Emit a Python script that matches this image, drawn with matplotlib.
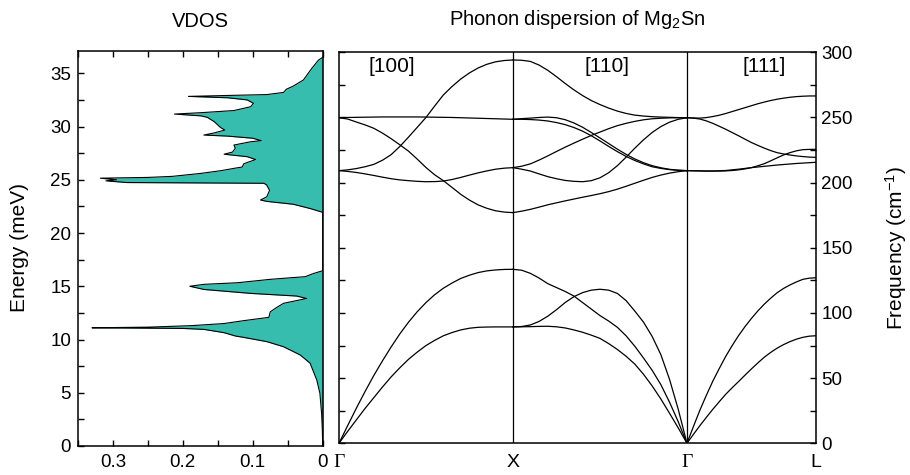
import matplotlib
matplotlib.use("Agg")
import matplotlib.pyplot as plt
from matplotlib.ticker import MultipleLocator

plt.rcParams['font.family'] = ['Liberation Sans', 'DejaVu Sans']
plt.rcParams['mathtext.fontset'] = 'custom'
plt.rcParams['mathtext.rm'] = 'Liberation Sans'
plt.rcParams['mathtext.default'] = 'regular'

# vibrational density of states (energy in meV, states per meV)
vdos_energy = [0, 1.5, 3.0, 4.95, 6.2, 7.77, 8.54, 9.32, 9.8, 10.2, 10.33, 10.64,
               10.95, 11.04, 11.1, 11.16, 11.3, 11.5, 11.77, 12.08, 12.6, 13.0,
               13.4, 13.85, 14.08, 14.33, 14.7, 15.0, 15.18, 15.33, 15.65, 15.9,
               16.2, 16.46,
               21.94, 22.3, 22.7, 22.97, 23.1, 23.4, 24.0, 24.5, 24.67, 24.74,
               24.9, 25.0, 25.15, 25.22, 25.32, 25.6, 25.85, 26.07, 26.2, 26.5,
               26.9, 27.17, 27.3, 27.4, 27.6, 27.95, 28.26, 28.57, 28.67, 28.9,
               29.1, 29.2, 29.4, 29.67, 29.9, 30.14, 30.45, 30.86, 31.0, 31.17,
               31.3, 31.5, 31.86, 32.18, 32.5, 32.7, 32.83, 32.93, 33.0, 33.2,
               33.5, 33.8, 34.37, 35.46, 36.24, 36.5]
vdos_value = [0, 0.0005, 0.0015, 0.004, 0.0085, 0.018, 0.032, 0.056, 0.08, 0.113, 0.125, 0.141,
              0.17, 0.2, 0.33, 0.25, 0.188, 0.141, 0.113, 0.077, 0.075, 0.066,
              0.056, 0.023, 0.037, 0.103, 0.17, 0.19, 0.17, 0.122, 0.075, 0.025,
              0.013, 0,
              0, 0.018, 0.042, 0.08, 0.089, 0.08, 0.076, 0.08, 0.084, 0.28,
              0.31, 0.295, 0.318, 0.25, 0.215, 0.174, 0.146, 0.127, 0.115, 0.113,
              0.096, 0.108, 0.127, 0.141, 0.129, 0.125, 0.127, 0.103, 0.088, 0.1,
              0.136, 0.17, 0.155, 0.14, 0.146, 0.15, 0.155, 0.165, 0.174, 0.212,
              0.174, 0.127, 0.103, 0.099, 0.108, 0.136, 0.192, 0.127, 0.08, 0.056,
              0.052, 0.042, 0.0276, 0.0156, 0.006, 0]

# phonon branches (cm^-1), sampled every 5% along each path segment
seg_u = [0.0, 0.05, 0.1, 0.15, 0.2, 0.25, 0.3, 0.35, 0.4, 0.45, 0.5,
         0.55, 0.6, 0.65, 0.7, 0.75, 0.8, 0.85, 0.9, 0.95, 1.0]

# Gamma -> X  [100]
gx_ta = [0, 9.2, 18, 26.8, 35, 43.2, 51, 58, 64.5, 70, 75,
         79, 82.5, 85, 87, 88.3, 89, 89.2, 89.3, 89.3, 89.3]
gx_la = [0, 13.6, 27, 39.8, 52, 63.3, 74, 84, 93, 101, 108,
         114, 119, 123, 126.5, 129, 131, 132.3, 133, 133.4, 133.5]
gx_to = [209.2, 208.6, 207.8, 206.7, 205.5, 204.2, 203, 202.1, 201.5, 201, 200.7,
         200.8, 201.2, 202.4, 204, 205.8, 207.5, 209, 210.3, 211.1, 211.5]
gx_lo = [209.2, 209.8, 210.8, 212.2, 214, 217.2, 221.5, 227.8, 235, 242.5, 250,
         258.8, 267.3, 273.8, 279.5, 284.2, 288, 290.8, 292.7, 293.7, 294.1]
gx_r1 = [249.8, 250, 250.1, 250.2, 250.3, 250.4, 250.4, 250.4, 250.4, 250.4, 250.3,
         250.2, 250.1, 250, 249.8, 249.6, 249.4, 249.2, 249, 248.8, 248.6]
gx_r2 = [249.8, 248.8, 246.5, 244.3, 241.7, 238, 233.7, 229, 224.1, 218, 211.6,
         206, 201.5, 196.3, 191, 186.6, 182.9, 180.3, 178.4, 177.4, 177]

# X -> Gamma  [110]
xg_a1 = [133.5, 132.8, 130.4, 126.8, 122.5, 119.5, 116.5, 113, 108, 103, 98,
         93.8, 89, 82.5, 74.5, 65.5, 56, 45, 31.5, 16.5, 0]
xg_a2 = [89.3, 89.6, 90.8, 93.5, 97.5, 102.5, 108, 112.5, 115.6, 117.5, 118.2,
         117.5, 115, 109.5, 101.5, 93, 82, 68, 49, 26, 0]
xg_a3 = [89.3, 89.4, 89.5, 89.7, 89.8, 89.4, 88.5, 87, 85.2, 83, 80.5,
         76.5, 72, 66.8, 60.8, 53, 44, 34, 23, 11.8, 0]
xg_o1 = [294.1, 293.9, 293, 290.2, 286.2, 281.3, 276.1, 271.2, 266.8, 263, 259.9,
         257.2, 254.9, 253.1, 251.8, 251.1, 250.6, 250.3, 250.1, 249.9, 249.8]
xg_o2 = [248.6, 249.1, 249.5, 250, 250.3, 249.8, 248.3, 245.8, 242.5, 238.5, 234.3,
         230, 225.7, 221.7, 218.2, 215.3, 213, 211.4, 210.2, 209.5, 209.2]
xg_o3 = [248.6, 248.6, 248.4, 248, 247.3, 246.1, 244.5, 242.3, 239.5, 236, 232,
         227.8, 223.8, 220.1, 217, 214.4, 212.2, 210.9, 210, 209.5, 209.2]
xg_o4 = [211.5, 212.6, 214.4, 217.3, 220.5, 223.9, 227.2, 230.3, 233.3, 236.2, 238.8,
         241.4, 243.7, 245.5, 247, 248.2, 249, 249.4, 249.7, 249.8, 249.8]
xg_o5 = [211.5, 210.3, 208.9, 206.7, 204.6, 203, 201.7, 201, 200.7, 201.5, 203.7,
         207.6, 213, 219.5, 226.4, 232.8, 238.5, 243, 246.4, 248.6, 249.8]
xg_o6 = [177, 178.1, 179.5, 181.2, 183, 184.5, 186, 187.4, 188.8, 190.1, 191.5,
         193.1, 195, 197.2, 199.5, 201.8, 204, 205.8, 207.3, 208.4, 209.2]

# Gamma -> L  [111]
gl_ta = [0, 6.8, 13.5, 19.8, 26, 31.8, 37.5, 42.5, 47.3, 52.2, 57,
         61.6, 66, 69.7, 73, 75.7, 78, 79.9, 81.3, 82.2, 82.5]
gl_la = [0, 12.8, 25.3, 36.7, 47.5, 57.2, 66.5, 74.8, 82.5, 89.4, 95.7,
         101.5, 106.7, 111.3, 115.5, 118.8, 121.5, 123.8, 125.8, 126.7, 127]
gl_o1 = [249.8, 249.6, 249.5, 249.9, 250.7, 251.7, 253, 254.5, 256, 257.5, 259,
         260.5, 261.8, 263, 264, 264.8, 265.5, 266, 266.3, 266.5, 266.5]
gl_o2 = [249.8, 249.5, 248.8, 247.4, 245.5, 243.3, 241, 238.5, 236, 233.4, 230.8,
         228.6, 226.5, 224.6, 223, 222, 221.2, 220.5, 220, 219.6, 219.4]
gl_o3 = [209.2, 209.1, 209, 208.9, 208.9, 208.9, 209, 209.3, 209.8, 210.5, 211.5,
         212.9, 214.5, 216.7, 219, 221.2, 223, 224.4, 225.3, 225.5, 225.6]
gl_o4 = [209.2, 209.1, 209, 208.9, 208.9, 209.1, 209.3, 209.8, 210.3, 210.9, 211.5,
         212, 212.5, 213, 213.5, 213.9, 214.3, 214.7, 215, 215.3, 215.6]

kpath_pos = [0, 1, 2, 2.74]
kpath_lbl = ['\u0393', 'X', '\u0393', 'L']
path_labels = ['[100]', '[110]', '[111]']

segments = [
    (kpath_pos[0], kpath_pos[1], [gx_ta, gx_la, gx_to, gx_lo, gx_r1, gx_r2]),
    (kpath_pos[1], kpath_pos[2], [xg_a1, xg_a2, xg_a3, xg_o1, xg_o2, xg_o3,
                                  xg_o4, xg_o5, xg_o6]),
    (kpath_pos[2], kpath_pos[3], [gl_ta, gl_la, gl_o1, gl_o2, gl_o3, gl_o4]),
]

fill_col = '#36bdae'
W, H = 910, 475
fig = plt.figure(figsize=(W / 100, H / 100), dpi=100)

# left panel: VDOS
ax1 = fig.add_axes([78 / W, 1 - 446 / H, 244.7 / W, 395.3 / H])
ax1.fill_betweenx(vdos_energy, 0, vdos_value, color=fill_col, lw=0)
ax1.plot(vdos_value, vdos_energy, color='k', lw=0.8)
ax1.set_xlim(0.35, 0)
ax1.set_ylim(0, 37.12)
ax1.xaxis.set_minor_locator(MultipleLocator(0.05))
ax1.yaxis.set_major_locator(MultipleLocator(5))
ax1.yaxis.set_minor_locator(MultipleLocator(2.5))
ax1.set_xticks([0, 0.1, 0.2, 0.3], ['0', '0.1', '0.2', '0.3'])
ax1.tick_params(axis='both', which='both', direction='in', length=4.5, width=1,
                labelsize=13.5, top=True, right=False)
ax1.tick_params(axis='x', pad=6)
ax1.tick_params(axis='y', pad=5)

# right panel: dispersion
ax2 = fig.add_axes([339 / W, 1 - 443.3 / H, 476.7 / W, 391 / H])
for k0, k1, branches in segments:
    ks = [k0 + u * (k1 - k0) for u in seg_u]
    for f in branches:
        ax2.plot(ks, f, color='k', lw=0.9)
for kp in kpath_pos[1:3]:
    ax2.axvline(kp, color='k', lw=0.9)
ax2.set_xlim(kpath_pos[0], kpath_pos[-1])
ax2.set_ylim(0, 300)
ax2.set_xticks(kpath_pos, kpath_lbl)
ax2.tick_params(axis='x', length=0, labelsize=14, pad=8)
for lbl in ax2.get_xticklabels():
    if lbl.get_text() == '\u0393':
        lbl.set_fontfamily('Liberation Serif')
ax2.yaxis.set_major_locator(MultipleLocator(50))
ax2.yaxis.set_minor_locator(MultipleLocator(25))
ax2.tick_params(axis='y', which='both', direction='in', length=4.5, width=1,
                left=True, right=True, labelleft=False, labelright=True,
                labelsize=13.5, pad=4)

label_x = [392, 607, 764]
for x, t in zip(label_x, path_labels):
    fig.text(x / W, 1 - 67 / H, t, ha='center', va='center', fontsize=15)

for ax in (ax1, ax2):
    for s in ax.spines.values():
        s.set_linewidth(1.1)

fig.text(200.5 / W, 1 - 27 / H, 'VDOS', ha='center', va='baseline', fontsize=14.5)
fig.text(577.5 / W, 1 - 25 / H, 'Phonon dispersion of Mg$_2$Sn', ha='center',
         va='baseline', fontsize=14.5)
fig.text(20 / W, 1 - 248 / H, 'Energy (meV)', rotation=90, ha='center',
         va='center', fontsize=15)
fig.text(896 / W, 1 - 248 / H, 'Frequency (cm$^{-1}$)', rotation=90,
         ha='center', va='center', fontsize=15)

fig.savefig('out.png', dpi=100)
